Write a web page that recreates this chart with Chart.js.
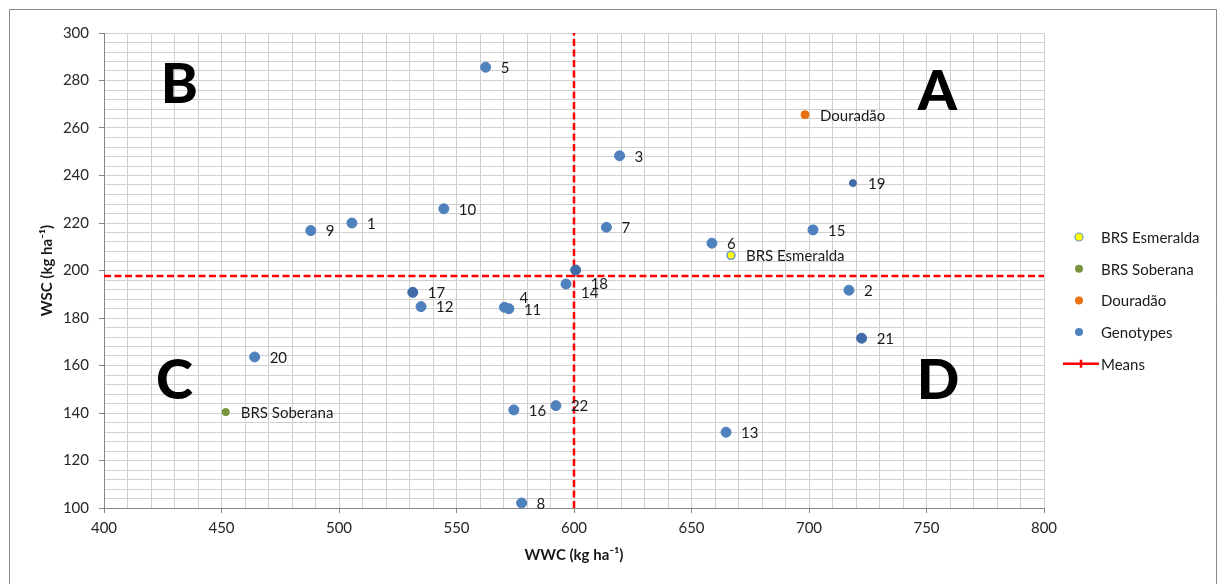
<!DOCTYPE html>
<html>
<head>
<meta charset="utf-8">
<script src="https://cdn.jsdelivr.net/npm/chart.js@4.4.1/dist/chart.umd.min.js"></script>
<style>
  html, body { margin: 0; padding: 0; background: #fff; }
  #wrap { width: 1219px; height: 584px; }
</style>
</head>
<body>
<div id="wrap"><canvas id="myChart" width="1219" height="584"></canvas></div>
<script>
// genotipos: WWC (x) y WSC (y) en kg/ha
const genoNames = ['1','2','3','4','5','6','7','8','9','10','11','12','13','14','15','16','17','18','19','20','21','22'];
const genoWWC = [505.5, 717.0, 619.4, 570.4, 562.4, 658.7, 613.8, 577.7, 488.0, 544.6, 572.3, 534.9, 664.7, 596.6, 701.7, 574.4, 531.4, 600.7, 718.7, 464.1, 722.4, 592.3];
const genoWSC = [220.0, 191.7, 248.3, 184.5, 285.6, 211.5, 218.2, 102.1, 216.8, 226.0, 183.9, 184.8, 131.9, 194.3, 217.1, 141.3, 190.8, 200.2, 236.8, 163.6, 171.5, 143.1];

// testigos
const checkNames = ['BRS Esmeralda', 'BRS Soberana', 'Douradão'];
const checkWWC = [666.8, 451.8, 698.3];
const checkWSC = [206.4, 140.4, 265.6];

// medias
const meanWWC = 600;
const meanWSC = 197.7;

const xRange = [400, 800];
const yRange = [100, 300];

const FONT = 'Lato, "Open Sans", sans-serif';
const BLUE = '#4f81bd';
const BLUE_DARK = '#3f6ca6';
const darkPoints = ['17', '18', '19', '21'];

function toPts(xs, ys) {
  return xs.map((x, i) => ({ x: x, y: ys[i] }));
}

// fondo blanco + marco gris del grafico
const frame = {
  id: 'frame',
  beforeDraw(chart) {
    const ctx = chart.ctx;
    ctx.save();
    ctx.fillStyle = '#fff';
    ctx.fillRect(0, 0, chart.width, chart.height);
    ctx.strokeStyle = '#8a8a8a';
    ctx.lineWidth = 1;
    ctx.beginPath();
    ctx.moveTo(9.5, chart.height + 2);
    ctx.lineTo(9.5, 9.5);
    ctx.lineTo(1216.5, 9.5);
    ctx.lineTo(1216.5, chart.height + 2);
    ctx.stroke();
    ctx.restore();
  }
};

// etiquetas de cada punto, a la derecha
const pointLabels = {
  id: 'pointLabels',
  afterDatasetsDraw(chart, args, opts) {
    const ctx = chart.ctx;
    ctx.save();
    ctx.font = '15px ' + FONT;
    ctx.fillStyle = '#1a1a1a';
    ctx.textBaseline = 'middle';
    ctx.textAlign = 'left';
    chart.data.datasets.forEach((ds, i) => {
      if (!ds.names) return;
      chart.getDatasetMeta(i).data.forEach((pt, j) => {
        const name = ds.names[j];
        const dy = opts.nudge[name] || 0;
        ctx.fillText(name, pt.x + 15, pt.y + 1 + dy);
      });
    });
    ctx.restore();
  }
};

// letras de los cuadrantes
const quadLetters = {
  id: 'quadLetters',
  afterDatasetsDraw(chart, args, opts) {
    const ctx = chart.ctx;
    const sx = chart.scales.x, sy = chart.scales.y;
    ctx.save();
    ctx.font = '900 56px ' + FONT;
    ctx.fillStyle = '#000';
    ctx.textAlign = 'center';
    ctx.textBaseline = 'alphabetic';
    opts.items.forEach(it => {
      ctx.fillText(it.text, sx.getPixelForValue(it.x), sy.getPixelForValue(it.y));
    });
    ctx.restore();
  }
};

// leyenda dibujada a mano
const sideLegend = {
  id: 'sideLegend',
  afterDraw(chart, args, opts) {
    const ctx = chart.ctx;
    ctx.save();
    ctx.font = '15px ' + FONT;
    ctx.textBaseline = 'middle';
    ctx.fillStyle = '#1a1a1a';
    opts.items.forEach((it, i) => {
      const y = opts.top + i * opts.gap;
      if (it.line) {
        ctx.strokeStyle = it.color;
        ctx.lineWidth = 2.5;
        ctx.beginPath();
        ctx.moveTo(opts.x - 16, y);
        ctx.lineTo(opts.x + 20, y);
        ctx.moveTo(opts.x + 2, y - 4);
        ctx.lineTo(opts.x + 2, y + 4);
        ctx.stroke();
      } else {
        ctx.beginPath();
        ctx.arc(opts.x, y, 4, 0, Math.PI * 2);
        ctx.fillStyle = it.color;
        ctx.fill();
        if (it.border) {
          ctx.strokeStyle = it.border;
          ctx.lineWidth = 1.2;
          ctx.stroke();
        }
      }
      ctx.fillStyle = '#1a1a1a';
      ctx.fillText(it.text, opts.x + 22, y + 1);
    });
    ctx.restore();
  }
};

const ctx = document.querySelector('#myChart').getContext('2d');

const myChart = new Chart(ctx, {
  type: 'scatter',
  data: {
    datasets: [
      {
        label: 'Genotypes',
        data: toPts(genoWWC, genoWSC),
        names: genoNames,
        backgroundColor: c => darkPoints.includes(genoNames[c.dataIndex]) ? BLUE_DARK : BLUE,
        borderColor: c => darkPoints.includes(genoNames[c.dataIndex]) ? BLUE_DARK : BLUE,
        borderWidth: 1,
        pointRadius: c => genoNames[c.dataIndex] === '19' ? 3.5 : 5,
        order: 1
      },
      {
        label: checkNames[0],
        data: toPts([checkWWC[0]], [checkWSC[0]]),
        names: [checkNames[0]],
        backgroundColor: '#ffff00',
        borderColor: '#6f96c8',
        borderWidth: 1.5,
        pointRadius: 4,
        order: 0
      },
      {
        label: checkNames[1],
        data: toPts([checkWWC[1]], [checkWSC[1]]),
        names: [checkNames[1]],
        backgroundColor: '#77933c',
        borderColor: '#77933c',
        borderWidth: 1,
        pointRadius: 3.6,
        order: 0
      },
      {
        label: checkNames[2],
        data: toPts([checkWWC[2]], [checkWSC[2]]),
        names: [checkNames[2]],
        backgroundColor: '#e9700f',
        borderColor: '#e9700f',
        borderWidth: 1,
        pointRadius: 4,
        order: 0
      },
      {
        label: 'Means',
        data: [{ x: meanWWC, y: yRange[0] }, { x: meanWWC, y: yRange[1] }],
        showLine: true,
        borderColor: '#ff0000',
        borderWidth: 2.5,
        borderDash: [7, 3.5],
        pointRadius: 0,
        order: 5
      },
      {
        label: 'Means',
        data: [{ x: xRange[0], y: meanWSC }, { x: xRange[1], y: meanWSC }],
        showLine: true,
        borderColor: '#ff0000',
        borderWidth: 2.5,
        borderDash: [7, 3.5],
        pointRadius: 0,
        order: 5
      }
    ]
  },
  options: {
    responsive: false,
    devicePixelRatio: 1,
    animation: false,
    layout: { padding: { left: 9, right: 175, top: 33, bottom: 0 } },
    plugins: {
      legend: { display: false },
      tooltip: { enabled: false },
      pointLabels: { nudge: { '4': -10, '14': 8, '18': 13 } },
      quadLetters: {
        items: [
          { text: 'A', x: 754.6, y: 267.6 },
          { text: 'B', x: 432.1, y: 270.5 },
          { text: 'C', x: 430.0, y: 145.9 },
          { text: 'D', x: 754.9, y: 145.9 }
        ]
      },
      sideLegend: {
        x: 1079, top: 237, gap: 31.7,
        items: [
          { text: 'BRS Esmeralda', color: '#ffff00', border: '#6f96c8' },
          { text: 'BRS Soberana', color: '#77933c' },
          { text: 'Douradão', color: '#e9700f' },
          { text: 'Genotypes', color: BLUE },
          { text: 'Means', color: '#ff0000', line: true }
        ]
      }
    },
    scales: {
      x: {
        type: 'linear',
        min: xRange[0],
        max: xRange[1],
        ticks: {
          stepSize: 10,
          autoSkip: false,
          maxRotation: 0,
          color: '#262626',
          font: { family: FONT, size: 15 },
          padding: 6,
          callback: v => v % 50 === 0 ? v : ''
        },
        grid: {
          color: '#d0d0d0',
          tickLength: 5,
          tickColor: c => (c.tick && c.tick.value % 50 === 0) ? '#868686' : 'rgba(0,0,0,0)'
        },
        border: { color: '#868686' },
        title: {
          display: true,
          text: 'WWC (kg ha⁻¹)',
          color: '#1a1a1a',
          font: { family: FONT, size: 15, weight: 'bold' },
          padding: { top: 0, bottom: 20 }
        },
        afterFit: s => { s.height = 76; }
      },
      y: {
        type: 'linear',
        min: yRange[0],
        max: yRange[1],
        ticks: {
          stepSize: 4,
          autoSkip: false,
          color: '#262626',
          font: { family: FONT, size: 15 },
          padding: 10,
          callback: v => v % 20 === 0 ? v : ''
        },
        grid: {
          color: '#d0d0d0',
          tickLength: 5,
          tickColor: c => (c.tick && c.tick.value % 20 === 0) ? '#868686' : 'rgba(0,0,0,0)'
        },
        border: { color: '#868686' },
        title: {
          display: true,
          text: 'WSC (kg ha⁻¹)',
          color: '#1a1a1a',
          font: { family: FONT, size: 15, weight: 'bold' },
          padding: { top: 29, bottom: 0 }
        },
        afterFit: s => { s.width = 95; }
      }
    }
  },
  plugins: [frame, pointLabels, quadLetters, sideLegend]
});
</script>
</body>
</html>
